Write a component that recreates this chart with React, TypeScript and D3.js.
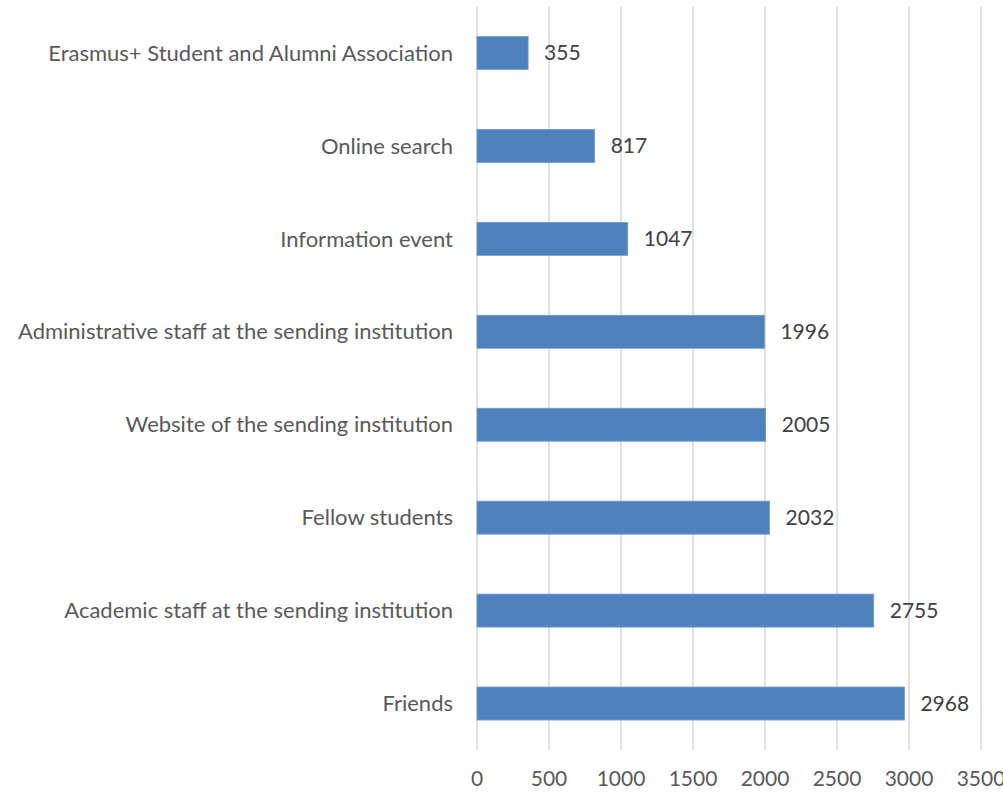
import React from "react";
import * as d3 from "d3";

const categories = [
  "Erasmus+ Student and Alumni Association",
  "Online search",
  "Information event",
  "Administrative staff at the sending institution",
  "Website of the sending institution",
  "Fellow students",
  "Academic staff at the sending institution",
  "Friends",
];
const values = [355, 817, 1047, 1996, 2005, 2032, 2755, 2968];
const xTicks = [0, 500, 1000, 1500, 2000, 2500, 3000, 3500];

const W = 1003;
const H = 793;
const FONT = "Lato, 'Open Sans', sans-serif";

export default function App() {
  const x = d3.scaleLinear().domain([0, 3500]).range([477, 981]);
  const y = d3
    .scaleBand<string>()
    .domain(categories)
    .range([6.5, 750])
    .paddingInner(0.645)
    .paddingOuter(0.3225);

  return (
    <svg
      width={W}
      height={H}
      style={{ position: "absolute", left: 0, top: 0, background: "#fff" }}
    >
      {xTicks.map((t) => (
        <line
          key={"g" + t}
          x1={x(t)}
          x2={x(t)}
          y1={6.5}
          y2={750}
          stroke="#d9d9d9"
          strokeWidth={1.5}
        />
      ))}
      {xTicks.map((t) => (
        <text
          key={"t" + t}
          x={x(t)}
          y={786}
          textAnchor="middle"
          fontFamily={FONT}
          fontSize={21}
          fill="#595959"
        >
          {t}
        </text>
      ))}
      {categories.map((c, i) => {
        const by = y(c)!;
        const bh = y.bandwidth();
        return (
          <g key={c}>
            <rect
              x={x(0)}
              y={by}
              width={x(values[i]) - x(0)}
              height={bh}
              fill="#4f81bd"
              stroke="#6f9bd0"
              strokeWidth={0.8}
            />
            <text
              x={x(values[i]) + 16}
              y={by + bh / 2}
              dy="0.35em"
              fontFamily={FONT}
              fontSize={21}
              fill="#404040"
            >
              {values[i]}
            </text>
            <text
              x={453}
              y={by + bh / 2}
              dy="0.35em"
              textAnchor="end"
              fontFamily={FONT}
              fontSize={22}
              fill="#595959"
            >
              {c}
            </text>
          </g>
        );
      })}
    </svg>
  );
}
